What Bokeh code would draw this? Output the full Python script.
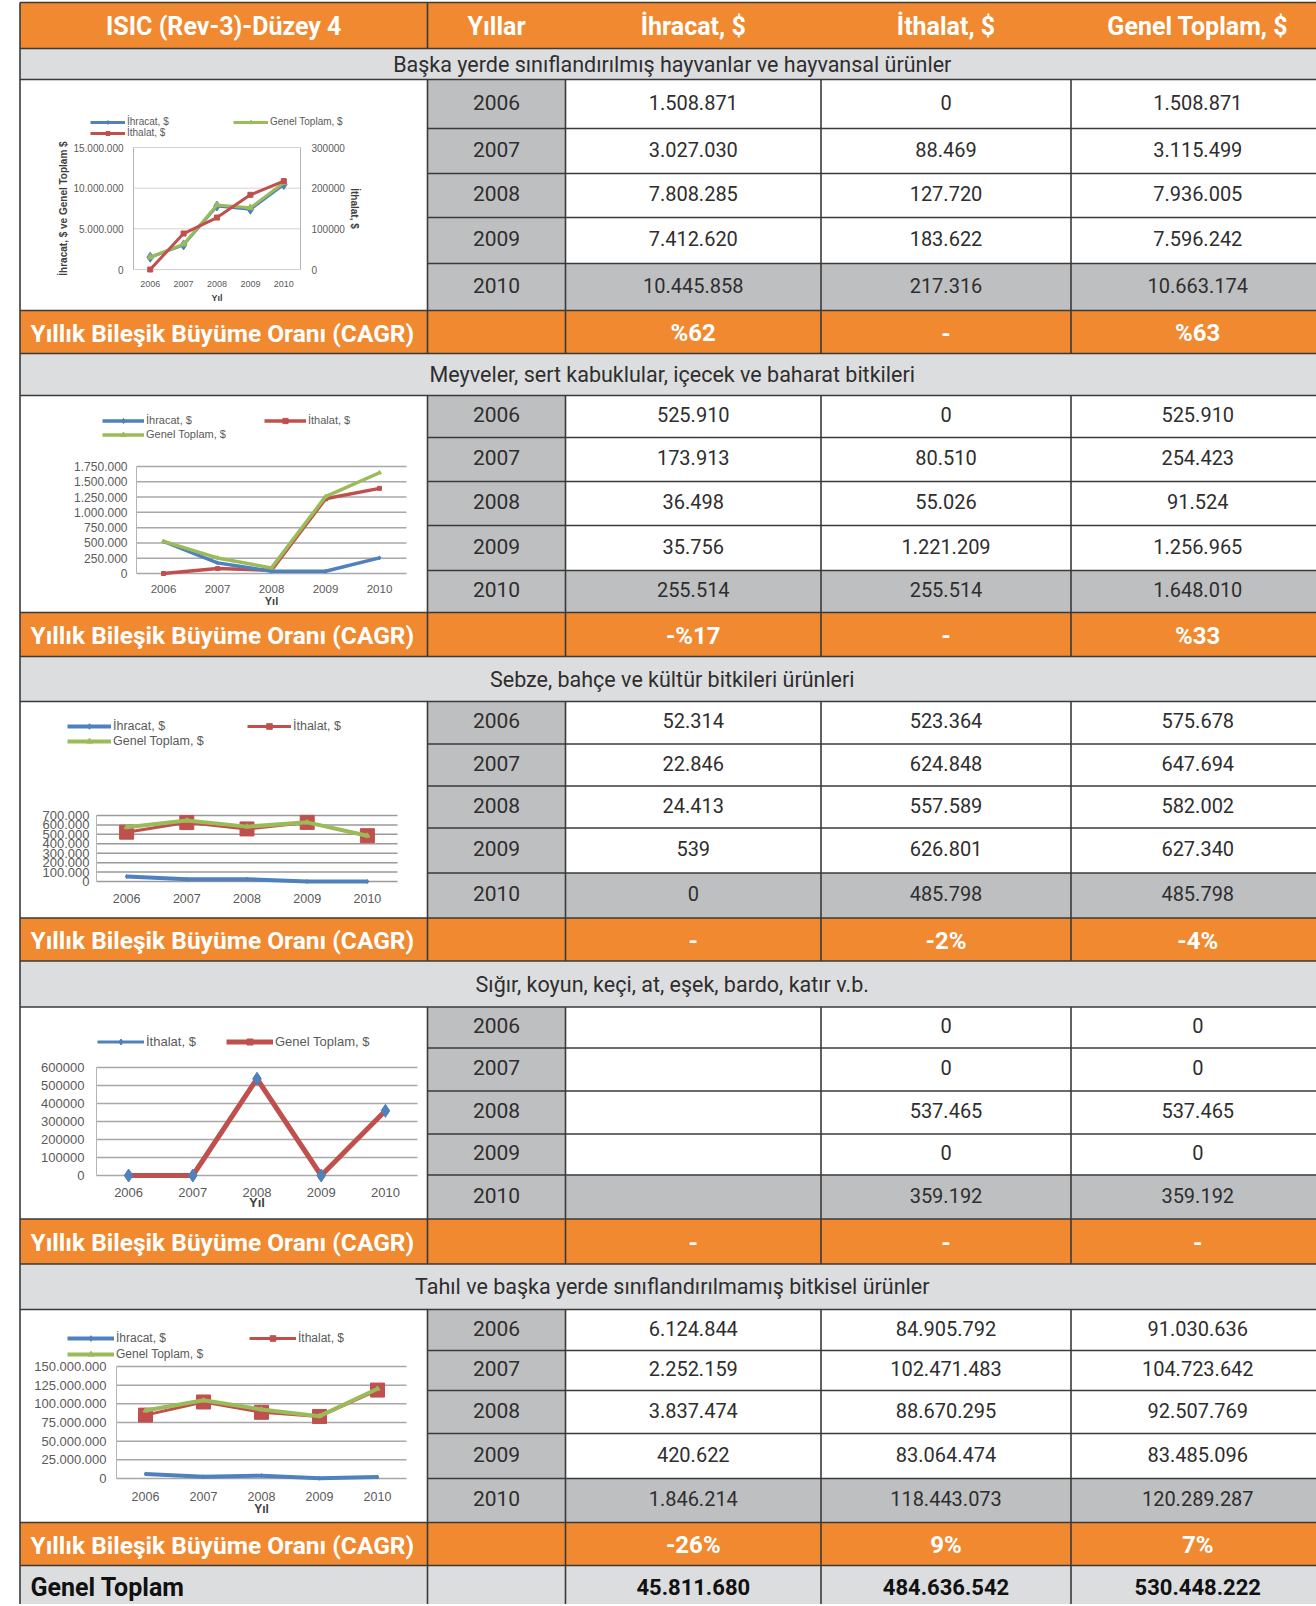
from math import pi
from bokeh.plotting import figure
from bokeh.models import Range1d, Legend, LegendItem
from bokeh.core.properties import value
from bokeh.embed import file_html
from bokeh.resources import INLINE

# ---------------- data ----------------
years = [2006, 2007, 2008, 2009, 2010]
year_labels = ["2006", "2007", "2008", "2009", "2010"]
headers = ["ISIC (Rev-3)-Düzey 4", "Yıllar", "İhracat, $", "İthalat, $", "Genel Toplam, $"]
section_titles = [
    "Başka yerde sınıflandırılmış hayvanlar ve hayvansal ürünler",
    "Meyveler, sert kabuklular, içecek ve baharat bitkileri",
    "Sebze, bahçe ve kültür bitkileri ürünleri",
    "Sığır, koyun, keçi, at, eşek, bardo, katır v.b.",
    "Tahıl ve başka yerde sınıflandırılmamış bitkisel ürünler",
]
cagr_label = "Yıllık Bileşik Büyüme Oranı (CAGR)"
total_label = "Genel Toplam"
lbl_ihracat = "İhracat, $"
lbl_ithalat = "İthalat, $"
lbl_toplam = "Genel Toplam, $"
axis_year_label = "Yıl"
c1_left_title = "İhracat, $ ve Genel Toplam $"
c1_right_title = "İthalat, $"

s1_ihracat = [1508871, 3027030, 7808285, 7412620, 10445858]
s1_ithalat = [0, 88469, 127720, 183622, 217316]
s1_toplam = [1508871, 3115499, 7936005, 7596242, 10663174]
s1_cagr = ["%62", "-", "%63"]

s2_ihracat = [525910, 173913, 36498, 35756, 255514]
s2_ithalat = [0, 80510, 55026, 1221209, 255514]
s2_toplam = [525910, 254423, 91524, 1256965, 1648010]
s2_cagr = ["-%17", "-", "%33"]
s2_ithalat_chart = [0, 80510, 55026, 1221209, 1392496]   # as drawn in the small chart

s3_ihracat = [52314, 22846, 24413, 539, 0]
s3_ithalat = [523364, 624848, 557589, 626801, 485798]
s3_toplam = [575678, 647694, 582002, 627340, 485798]
s3_cagr = ["-", "-2%", "-4%"]

s4_ihracat = [None, None, None, None, None]
s4_ithalat = [0, 0, 537465, 0, 359192]
s4_toplam = [0, 0, 537465, 0, 359192]
s4_cagr = ["-", "-", "-"]

s5_ihracat = [6124844, 2252159, 3837474, 420622, 1846214]
s5_ithalat = [84905792, 102471483, 88670295, 83064474, 118443073]
s5_toplam = [91030636, 104723642, 92507769, 83485096, 120289287]
s5_cagr = ["-26%", "9%", "7%"]

total_values = [45811680, 484636542, 530448222]

c1_left_ticks = [0, 5000000, 10000000, 15000000]
c1_right_ticks = [0, 100000, 200000, 300000]
c2_ticks = [0, 250000, 500000, 750000, 1000000, 1250000, 1500000, 1750000]
c3_ticks = [0, 100000, 200000, 300000, 400000, 500000, 600000, 700000]
c4_ticks = [0, 100000, 200000, 300000, 400000, 500000, 600000]
c5_ticks = [0, 25000000, 50000000, 75000000, 100000000, 125000000, 150000000]


def tr(v):
    return "" if v is None else f"{v:,}".replace(",", ".")


# ---------------- layout ----------------
W, H = 1316, 1604
OX, OY = 0, 0
COLS = [19.5, 427, 565, 820.5, 1070.5, 1324]
HEADER = (2, 48)
SECTIONS = [
    dict(title=(48, 79), rows=[79, 128, 173, 217, 263, 310], cagr=(310, 353)),
    dict(title=(353, 395), rows=[395, 437, 481, 525, 570, 612], cagr=(612, 656)),
    dict(title=(656, 701), rows=[701, 743.5, 785.5, 827.5, 872.5, 917.5], cagr=(917.5, 960.5)),
    dict(title=(960.5, 1006.5), rows=[1006.5, 1047.5, 1090.5, 1133.5, 1174.5, 1218.5], cagr=(1218.5, 1263.5)),
    dict(title=(1263.5, 1309), rows=[1309, 1350, 1390, 1433, 1478, 1522], cagr=(1522, 1565)),
]
GT = (1565, 1612)

ORANGE = "#F0892F"
TITLE_BG = "#DCDDDF"
YEAR_BG = "#BEBFC1"
BORDER = "#3A3A3A"
TXT = "#2E2E2E"
BLUE, RED, GREEN = "#4F81BD", "#C0504D", "#9BBB59"
TF = value("Roboto")
CF = value("Liberation Sans")
CTXT = "#5A5A5A"

p = figure(width=W, height=H, x_range=Range1d(OX, OX + W), y_range=Range1d(OY + H, OY),
           output_backend="svg", toolbar_location=None, min_border=0,
           x_axis_location=None, y_axis_location=None)
p.grid.visible = False
p.outline_line_color = None
p.background_fill_color = "white"
p.border_fill_color = "white"

L, R = COLS[0], COLS[-1]
ql, qr, qt, qb, qc = [], [], [], [], []


def cell(l, r, t, b, c):
    ql.append(l); qr.append(r); qt.append(t); qb.append(b); qc.append(c)


cell(L, R, HEADER[0], HEADER[1], ORANGE)
for sec in SECTIONS:
    cell(L, R, sec["title"][0], sec["title"][1], TITLE_BG)
    rows = sec["rows"]
    for ri in range(5):
        cell(COLS[1], COLS[2], rows[ri], rows[ri + 1], YEAR_BG)
        if ri == 4:
            cell(COLS[2], R, rows[ri], rows[ri + 1], YEAR_BG)
    cell(L, R, sec["cagr"][0], sec["cagr"][1], ORANGE)
cell(L, R, GT[0], GT[1], TITLE_BG)
p.quad(left=ql, right=qr, top=qt, bottom=qb, fill_color=qc, line_color=None)

# borders
hx0, hx1, hy = [], [], []
vx, vy0, vy1 = [], [], []


def hl(x0, x1, y):
    hx0.append(x0); hx1.append(x1); hy.append(y)


def vl(x, y0, y1):
    vx.append(x); vy0.append(y0); vy1.append(y1)


hl(L, R, HEADER[0])
hl(L, R, HEADER[1])
vl(L, HEADER[0], GT[1])
vl(COLS[1], HEADER[0], HEADER[1])
for sec in SECTIONS:
    hl(L, R, sec["title"][1])
    rows = sec["rows"]
    for y in rows[1:-1]:
        hl(COLS[1], R, y)
    hl(L, R, rows[-1])
    for x in COLS[1:5]:
        vl(x, rows[0], sec["cagr"][1])
    hl(L, R, sec["cagr"][1])
for x in COLS[1:5]:
    vl(x, GT[0], GT[1])
p.segment(x0=hx0, y0=hy, x1=hx1, y1=hy, line_color=BORDER, line_width=1.6)
p.segment(x0=vx, y0=vy0, x1=vx, y1=vy1, line_color=BORDER, line_width=1.6)

# table texts
col_c = [(COLS[i] + COLS[i + 1]) / 2 for i in range(5)]
p.text(x=col_c, y=[(HEADER[0] + HEADER[1]) / 2 + 1] * 5, text=headers, text_font=TF,
       text_font_size="25px", text_font_style="bold", text_color="white",
       text_align="center", text_baseline="middle")

data_sets = [
    (s1_ihracat, s1_ithalat, s1_toplam, s1_cagr),
    (s2_ihracat, s2_ithalat, s2_toplam, s2_cagr),
    (s3_ihracat, s3_ithalat, s3_toplam, s3_cagr),
    (s4_ihracat, s4_ithalat, s4_toplam, s4_cagr),
    (s5_ihracat, s5_ithalat, s5_toplam, s5_cagr),
]
tx, ty, tt = [], [], []
yx, yy, yt = [], [], []
cx, cy, ct = [], [], []
lx, ly, lt = [], [], []
ttx, tty, ttt = [], [], []
for si, sec in enumerate(SECTIONS):
    ihr, ith, top, cg = data_sets[si]
    ttx.append((L + R) / 2); tty.append(sum(sec["title"]) / 2); ttt.append(section_titles[si])
    rows = sec["rows"]
    for ri in range(5):
        yc = (rows[ri] + rows[ri + 1]) / 2 - 2
        yx.append(col_c[1]); yy.append(yc); yt.append(year_labels[ri])
        for ci, txt in zip(range(2, 5), [tr(ihr[ri]), tr(ith[ri]), tr(top[ri])]):
            tx.append(col_c[ci]); ty.append(yc); tt.append(txt)
    yc = sum(sec["cagr"]) / 2 + 1
    lx.append(30); ly.append(yc); lt.append(cagr_label)
    for ci in range(3):
        cx.append(col_c[ci + 2]); cy.append(yc); ct.append(cg[ci])

p.text(x=ttx, y=tty, text=ttt, text_font=TF, text_font_size="21.5px", text_color=TXT,
       text_align="center", text_baseline="middle")
p.text(x=yx, y=yy, text=yt, text_font=TF, text_font_size="21px", text_color=TXT,
       text_align="center", text_baseline="middle")
p.text(x=tx, y=ty, text=tt, text_font=TF, text_font_size="20px", text_color=TXT,
       text_align="center", text_baseline="middle")
p.text(x=lx, y=ly, text=lt, text_font=TF, text_font_size="24.5px", text_font_style="bold",
       text_color="white", text_align="left", text_baseline="middle")
p.text(x=cx, y=cy, text=ct, text_font=TF, text_font_size="24px", text_font_style="bold",
       text_color="white", text_align="center", text_baseline="middle")
gy = (GT[0] + 1606) / 2 + 1
p.text(x=[30], y=[gy], text=[total_label], text_font=TF, text_font_size="25px",
       text_font_style="bold", text_color="#111111", text_align="left", text_baseline="middle")
p.text(x=col_c[2:], y=[gy] * 3, text=[tr(v) for v in total_values], text_font=TF,
       text_font_size="22px", text_font_style="bold", text_color="#111111",
       text_align="center", text_baseline="middle")


# ---------------- small charts ----------------
def xrange_for(key, px_l, px_r):
    sx = (px_r - px_l) / 5.0
    p.extra_x_ranges[key] = Range1d(2005.5 - (px_l - OX) / sx, 2010.5 + (OX + W - px_r) / sx)


def yrange_for(key, py_t, py_b, vmin, vmax):
    sy = (py_b - py_t) / (vmax - vmin)
    p.extra_y_ranges[key] = Range1d(vmin - (OY + H - py_b) / sy, vmax + (py_t - OY) / sy)


def frame(xk, yk, ticks, labels, fs, gap, grid_color, grid_w, side="left", axis=True):
    n = len(ticks)
    p.segment(x0=[2005.5] * n, x1=[2010.5] * n, y0=ticks, y1=ticks, x_range_name=xk,
              y_range_name=yk, line_color=grid_color, line_width=grid_w)
    if axis:
        p.segment(x0=[2005.5], x1=[2005.5], y0=[ticks[0]], y1=[ticks[-1]], x_range_name=xk,
                  y_range_name=yk, line_color="#B5B5B5", line_width=1)
    if side == "left":
        p.text(x=[2005.5] * n, y=ticks, text=labels, x_range_name=xk, y_range_name=yk,
               x_offset=-gap, text_align="right", text_baseline="middle", text_font=CF,
               text_font_size=fs, text_color=CTXT)
    else:
        p.text(x=[2010.5] * n, y=ticks, text=labels, x_range_name=xk, y_range_name=yk,
               x_offset=gap, text_align="left", text_baseline="middle", text_font=CF,
               text_font_size=fs, text_color=CTXT)


def xlabels(xk, yk, vmin, fs, off, yil_off=None, yil_fs=None):
    p.text(x=years, y=[vmin] * 5, text=year_labels, x_range_name=xk, y_range_name=yk,
           y_offset=off, text_align="center", text_baseline="middle", text_font=CF,
           text_font_size=fs, text_color=CTXT)
    if yil_off is not None:
        p.text(x=[2008], y=[vmin], text=[axis_year_label], x_range_name=xk, y_range_name=yk,
               y_offset=yil_off, text_align="center", text_baseline="middle", text_font=CF,
               text_font_size=yil_fs, text_font_style="bold", text_color="#404040")


def series(xk, yk, vals, color, lw, marker, msize, with_marker=True):
    lr = p.line(x=years, y=vals, x_range_name=xk, y_range_name=yk, line_color=color,
                line_width=lw)
    out = [lr]
    if with_marker:
        sr = p.scatter(x=years, y=vals, x_range_name=xk, y_range_name=yk, marker=marker,
                       size=msize, fill_color=color, line_color=color)
        out.append(sr)
    return out


def markers(xk, yk, vals, color, marker, msize):
    return p.scatter(x=years, y=vals, x_range_name=xk, y_range_name=yk, marker=marker,
                     size=msize, fill_color=color, line_color=color)


def legend(label, renderers, x_left, y_center, glyph_w, fs, gh):
    leg = Legend(items=[LegendItem(label=label, renderers=renderers)],
                 location=(x_left - OX, (OY + H) - (y_center + gh / 2.0)),
                 glyph_width=glyph_w, glyph_height=gh, label_height=gh,
                 padding=0, margin=0, spacing=0, label_standoff=2,
                 background_fill_alpha=0, border_line_alpha=0,
                 label_text_font_size=f"{fs}px", label_text_color=CTXT,
                 label_text_font="Liberation Sans")
    p.add_layout(leg)


# Chart 1 (dual axis)
xrange_for("c1x", 133, 300)
yrange_for("c1y", 147, 269, 0, 15000000)
yrange_for("c1r", 147, 269, 0, 300000)
frame("c1x", "c1y", c1_left_ticks, [tr(v) for v in c1_left_ticks], "10px", 10, "#D3D3D3", 1)
frame("c1x", "c1r", c1_right_ticks, [str(v) for v in c1_right_ticks], "10px", 11, "#D3D3D3", 0,
      side="right", axis=False)
p.segment(x0=[2010.5], x1=[2010.5], y0=[0], y1=[300000], x_range_name="c1x", y_range_name="c1r",
          line_color="#B5B5B5", line_width=1)
xlabels("c1x", "c1y", 0, "9px", 14, 28, "9px")
p.text(x=[2005.5], y=[7500000], text=[c1_left_title], x_range_name="c1x", y_range_name="c1y",
       x_offset=-70, angle=pi / 2, text_align="center", text_baseline="middle", text_font=CF,
       text_font_size="10px", text_font_style="bold", text_color="#404040")
p.text(x=[2010.5], y=[150000], text=[c1_right_title], x_range_name="c1x", y_range_name="c1r",
       x_offset=54, angle=-pi / 2, text_align="center", text_baseline="middle", text_font=CF,
       text_font_size="10px", text_font_style="bold", text_color="#404040")
r1b = series("c1x", "c1y", s1_ihracat, BLUE, 3, "diamond", 10)
r1g = series("c1x", "c1y", s1_toplam, GREEN, 3, "triangle", 6)
r1r = series("c1x", "c1r", s1_ithalat, RED, 3, "square", 5)
legend(lbl_ihracat, r1b, 90, 122, 35, 10, 10)
legend(lbl_toplam, r1g, 233, 122, 35, 10, 10)
legend(lbl_ithalat, r1r, 90, 133, 35, 10, 10)

# Chart 2
xrange_for("c2x", 136, 406)
yrange_for("c2y", 466, 573, 0, 1750000)
frame("c2x", "c2y", c2_ticks, [tr(v) for v in c2_ticks], "12px", 9, "#A8A8A8", 1.5)
xlabels("c2x", "c2y", 0, "11.5px", 15, 27, "11px")
r2r = series("c2x", "c2y", s2_ithalat_chart, RED, 3.5, "square", 4)
r2b = series("c2x", "c2y", s2_ihracat, BLUE, 3.5, "diamond", 4)
r2g = series("c2x", "c2y", s2_toplam, GREEN, 3.5, "triangle", 4)
legend(lbl_ihracat, r2b, 102, 420, 42, 11, 13)
legend(lbl_ithalat, r2r, 264, 420, 42, 11, 13)
legend(lbl_toplam, r2g, 102, 434, 42, 11, 13)

# Chart 3
xrange_for("c3x", 96, 397)
yrange_for("c3y", 815, 881, 0, 700000)
frame("c3x", "c3y", c3_ticks, [tr(v) for v in c3_ticks], "13px", 7, "#9A9A9A", 1.5)
xlabels("c3x", "c3y", 0, "12.5px", 17)
r3b = series("c3x", "c3y", s3_ihracat, BLUE, 4, "diamond", 4)
r3r = series("c3x", "c3y", s3_ithalat, RED, 3, "square", 14)
r3g = series("c3x", "c3y", s3_toplam, GREEN, 4, "triangle", 5)
legend(lbl_ihracat, r3b, 67, 726, 44, 12.5, 14)
legend(lbl_ithalat, r3r, 247, 726, 44, 12.5, 14)
legend(lbl_toplam, r3g, 67, 741, 44, 12.5, 14)

# Chart 4
xrange_for("c4x", 96, 417)
yrange_for("c4y", 1067, 1175, 0, 600000)
frame("c4x", "c4y", c4_ticks, [str(v) for v in c4_ticks], "13px", 12, "#A8A8A8", 1.5)
xlabels("c4x", "c4y", 0, "13px", 17, 27, "13px")
r4b = series("c4x", "c4y", s4_ithalat, BLUE, 3, "diamond", 13, with_marker=False)
r4r = series("c4x", "c4y", s4_toplam, RED, 5, "square", 5)
r4bm = markers("c4x", "c4y", s4_ithalat, BLUE, "diamond", 13)
legend(lbl_ithalat, r4b + [r4bm], 97, 1041, 47, 13, 15)
legend(lbl_toplam, r4r, 226, 1041, 47, 13, 15)

# Chart 5
xrange_for("c5x", 116, 406)
yrange_for("c5y", 1366, 1478, 0, 150000000)
frame("c5x", "c5y", c5_ticks, [tr(v) for v in c5_ticks], "13px", 10, "#A8A8A8", 1.5)
xlabels("c5x", "c5y", 0, "12.5px", 18, 30, "12px")
r5b = series("c5x", "c5y", s5_ihracat, BLUE, 4, "diamond", 4)
r5r = series("c5x", "c5y", s5_ithalat, RED, 3, "square", 14)
r5g = series("c5x", "c5y", s5_toplam, GREEN, 4, "triangle", 5)
legend(lbl_ihracat, r5b, 67, 1338, 47, 12, 14)
legend(lbl_ithalat, r5r, 249, 1338, 47, 12, 14)
legend(lbl_toplam, r5g, 67, 1354, 47, 12, 14)

open("out.html", "w").write(file_html(p, INLINE))
